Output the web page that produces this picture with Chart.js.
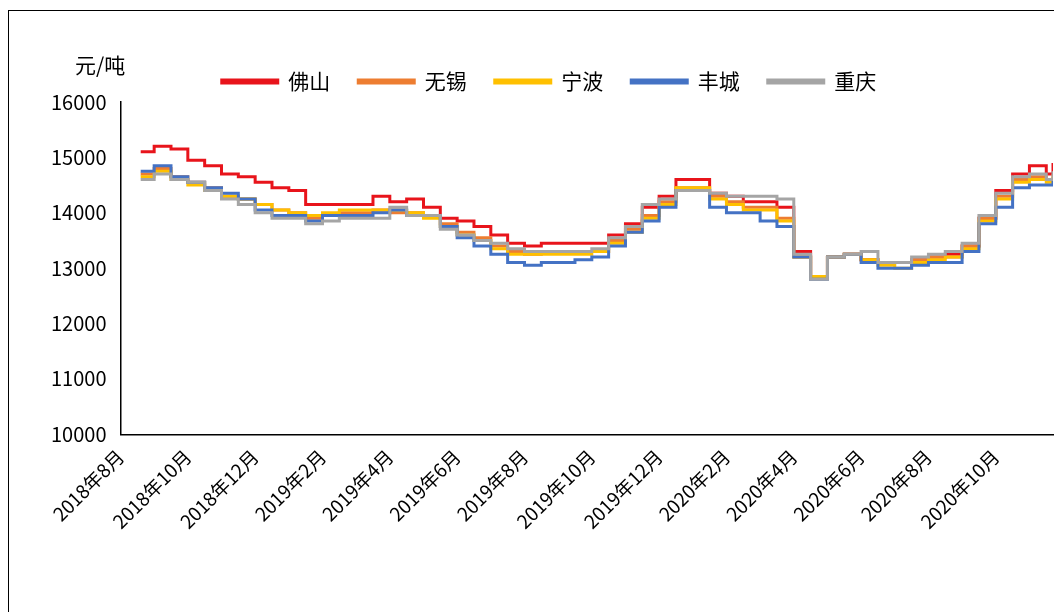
<!DOCTYPE html>
<html><head><meta charset="utf-8">
<script src="https://cdn.jsdelivr.net/npm/chart.js@4/dist/chart.umd.min.js"></script>
<style>
body{margin:0;background:#fff;font-family:"Noto Sans CJK SC",sans-serif}
#wrap{position:absolute;left:8px;top:10px;width:1060px;height:620px;border:1.5px solid #000;box-sizing:border-box}
#unit{position:absolute;left:66px;top:38px;font-size:21px}
</style></head><body>
<div id="wrap"><div id="unit">元/吨</div><canvas id="c" width="1046" height="600"></canvas></div>
<script>
// month offsets from 2018-08
const months = [0.6,1,1.5,2,2.5,3,3.5,4,4.5,5,5.5,6,6.5,7,7.5,8,8.5,9,9.5,10,10.5,11,11.5,12,12.5,13,13.5,14,14.5,15,15.5,16,16.5,17,17.5,18,18.5,19,19.5,20,20.5,21,21.5,22,22.5,23,23.5,24,24.5,25,25.5,26,26.5,27,27.5,27.7];
const tickLabels = ['2018年8月','2018年10月','2018年12月','2019年2月','2019年4月','2019年6月','2019年8月','2019年10月','2019年12月','2020年2月','2020年4月','2020年6月','2020年8月','2020年10月'];
const foshan  = [15100,15200,15150,14950,14850,14700,14650,14550,14450,14400,14150,14150,14150,14150,14300,14200,14250,14100,13900,13850,13750,13600,13450,13400,13450,13450,13450,13450,13600,13800,14100,14300,14600,14600,14350,14300,14200,14200,14100,13300,12850,13200,13250,13150,13100,13100,13150,13200,13250,13400,13900,14400,14700,14850,14700,14900];
const wuxi    = [14700,14800,14650,14550,14450,14300,14250,14150,14050,14000,13900,13950,14000,14000,14050,14000,14000,13950,13800,13650,13550,13400,13300,13250,13300,13300,13300,13300,13500,13700,13950,14200,14450,14450,14300,14200,14100,14100,13900,13200,12850,13200,13250,13150,13100,13100,13150,13200,13200,13400,13900,14300,14600,14650,14600,14700];
const ningbo  = [14650,14750,14600,14500,14400,14300,14250,14150,14050,14000,13950,14000,14050,14050,14050,14050,14000,13900,13750,13600,13500,13350,13250,13250,13250,13250,13250,13300,13450,13650,13900,14150,14450,14450,14250,14150,14050,14050,13850,13200,12850,13200,13250,13150,13050,13000,13100,13150,13200,13350,13850,14250,14550,14600,14550,14650];
const fengcheng=[14750,14850,14650,14550,14450,14350,14250,14050,13950,13950,13850,13950,13950,13950,14000,14050,13950,13950,13750,13550,13400,13250,13100,13050,13100,13100,13150,13200,13400,13650,13850,14100,14400,14400,14100,14000,14000,13850,13750,13200,12800,13200,13250,13100,13000,13000,13050,13100,13100,13300,13800,14100,14450,14500,14500,14600];
const chongqing=[14600,14700,14600,14550,14400,14250,14150,14000,13900,13900,13800,13850,13900,13900,13900,14100,13950,13950,13700,13600,13500,13450,13350,13300,13300,13300,13300,13350,13550,13750,14150,14250,14400,14400,14350,14300,14300,14300,14250,13250,12800,13200,13250,13300,13100,13100,13200,13250,13300,13450,13950,14350,14650,14700,14600,14750];

const names = ['佛山','无锡','宁波','丰城','重庆'];
const colors = ['#E8141B','#ED7D31','#FFC000','#4472C4','#A5A5A5'];
const series = [foshan,wuxi,ningbo,fengcheng,chongqing];
const order = [4,3,2,1,0]; // draw red on top

new Chart(document.getElementById('c'), {
  type: 'line',
  data: {
    datasets: series.map((s,i)=>({
      label: names[i],
      data: s.map((v,j)=>({x:months[j], y:v})),
      borderColor: colors[i], backgroundColor: colors[i],
      borderWidth: 3, pointRadius: 0, stepped: true, order: order[i]
    }))
  },
  options: {
    responsive:false, animation:false,
    layout:{padding:{left:36,right:2,top:32,bottom:75}},
    plugins:{
      legend:{position:'top', labels:{boxWidth:56,boxHeight:3,font:{size:21,family:'Noto Sans CJK SC'},color:'#000',padding:28,
        sort:(a,b)=>a.datasetIndex-b.datasetIndex}},
      tooltip:{enabled:false}
    },
    scales:{
      x:{type:'linear',min:0,max:27.7,
        grid:{display:false},
        border:{color:'#000',width:1.5},
        ticks:{stepSize:2,autoSkip:false,maxRotation:45,minRotation:45,color:'#000',font:{size:19,family:'Noto Sans CJK SC'},
          callback:v=>tickLabels[v/2]},
        afterBuildTicks:a=>{a.ticks=tickLabels.map((_,i)=>({value:i*2}));}
      },
      y:{min:10000,max:16000,
        grid:{display:false},
        border:{color:'#000',width:1.5},
        ticks:{stepSize:1000,color:'#000',font:{size:20,family:'Noto Sans CJK SC'},padding:6,callback:v=>String(v)}
      }
    }
  }
});
</script></body></html>
